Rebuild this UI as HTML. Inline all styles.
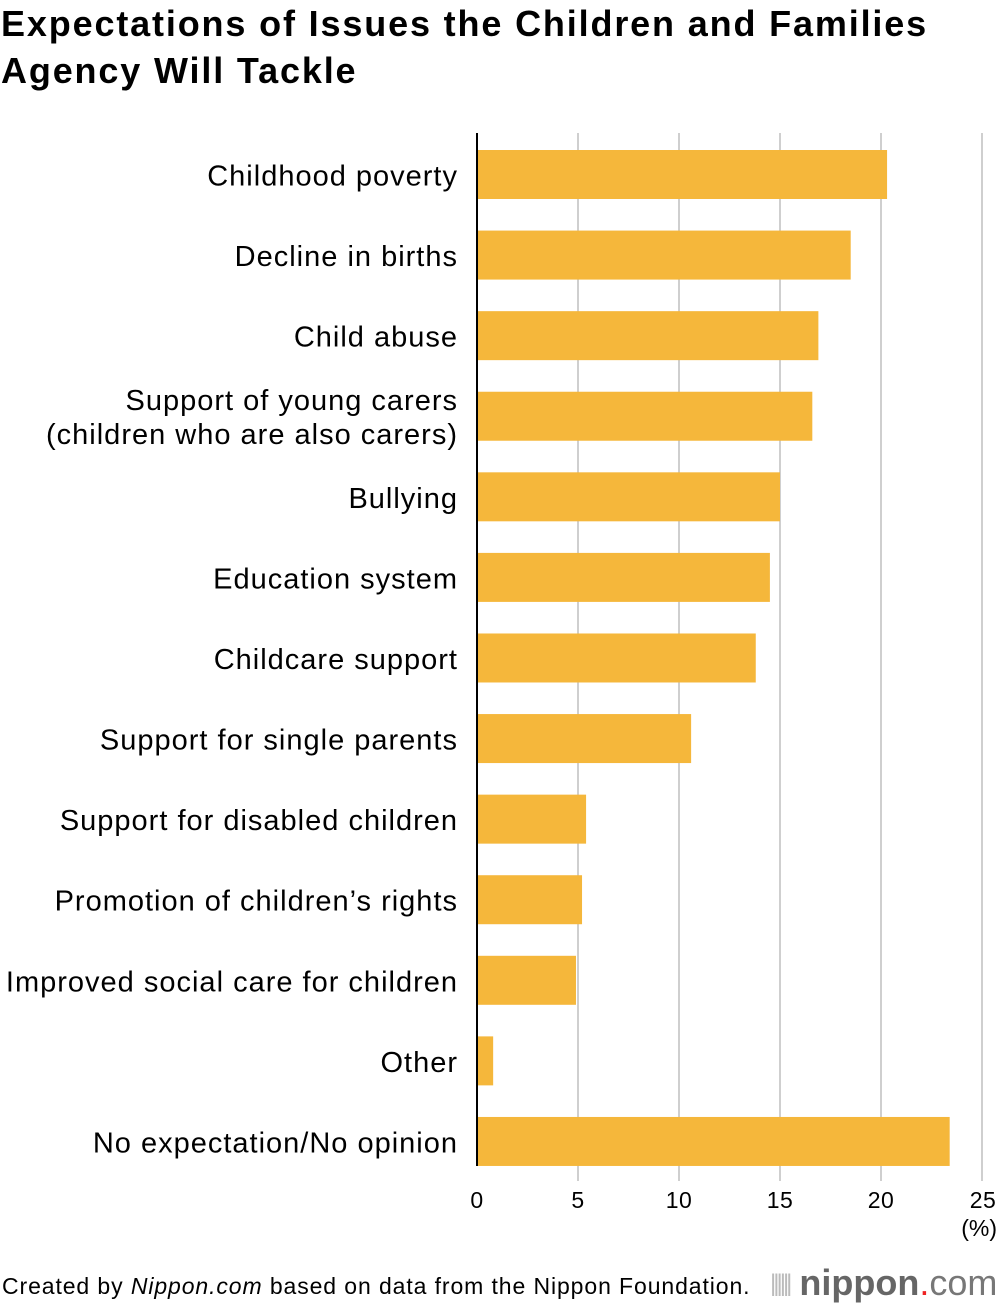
<!DOCTYPE html>
<html><head><meta charset="utf-8"><style>
body{margin:0;background:#fff;width:1000px;height:1306px;overflow:hidden;font-family:"Liberation Sans",sans-serif}
h1{position:absolute;left:1px;top:0px;margin:0;font-size:36px;letter-spacing:1.85px;line-height:47px;font-weight:bold;color:#000;white-space:nowrap}
</style></head><body>
<h1>Expectations of Issues the Children and Families<br>Agency Will Tackle</h1>
<svg id="chart" width="1000" height="1306" style="position:absolute;left:0;top:0"></svg>
<script>
const categories=["Childhood poverty","Decline in births","Child abuse","Support of young carers|(children who are also carers)","Bullying","Education system","Childcare support","Support for single parents","Support for disabled children","Promotion of children\u2019s rights","Improved social care for children","Other","No expectation/No opinion"];
const values=[20.3,18.5,16.9,16.6,15.0,14.5,13.8,10.6,5.4,5.2,4.9,0.8,23.4];
const ticks=[0,5,10,15,20,25];
const svg=document.getElementById('chart');
const NS='http://www.w3.org/2000/svg';
const x0=477,pxPer=20.2,top0=150,step=80.58,bh=49;
const x=v=>x0+v*pxPer;
function mk(t,a){const e=document.createElementNS(NS,t);for(const k in a)e.setAttribute(k,a[k]);svg.appendChild(e);return e;}
ticks.forEach(t=>{if(t===0)return;
 const g=mk('line',{x1:x(t),x2:x(t),y1:133,y2:1181,stroke:'#cfcfcf','stroke-width':2});
 
 });
values.forEach((v,i)=>{
 const r=mk('rect',{x:x0,y:top0+i*step,width:x(v)-x0,height:bh,fill:'#f5b73b'});
 
 
 const lines=categories[i].split('|');
 const cy=top0+i*step+bh/2;
 lines.forEach((ln,j)=>{
  const t=mk('text',{x:458,y:cy+11+(j-(lines.length-1)/2)*34,'text-anchor':'end','font-size':29,'letter-spacing':1,fill:'#000'});
  t.textContent=ln;
  
  });
});
const ax=mk('line',{x1:x0,x2:x0,y1:133,y2:1166,stroke:'#000','stroke-width':2});


ticks.forEach(t=>{
 const l=mk('text',{x:t===25?x(t)+1:x(t),y:1208,'text-anchor':'middle','font-size':23,'letter-spacing':0.5,fill:'#000'});
 l.textContent=t;
 
 });
const u=mk('text',{x:997,y:1236,'text-anchor':'end','font-size':23,fill:'#000'});
u.textContent='(%)';


</script>
<div style="position:absolute;left:2px;top:1273px;font-size:23px;letter-spacing:0.9px;color:#000;white-space:nowrap">Created by <i>Nippon.com</i> based on data from the Nippon Foundation.</div>
<div style="position:absolute;left:770px;top:1262px;font-size:36px;color:#777;white-space:nowrap"><span style="font-size:24px;letter-spacing:-3px;color:#bbb;vertical-align:4px">||||||</span> <b style="color:#666">nippon</b><span style="color:#e22">.</span>com</div>
</body></html>
